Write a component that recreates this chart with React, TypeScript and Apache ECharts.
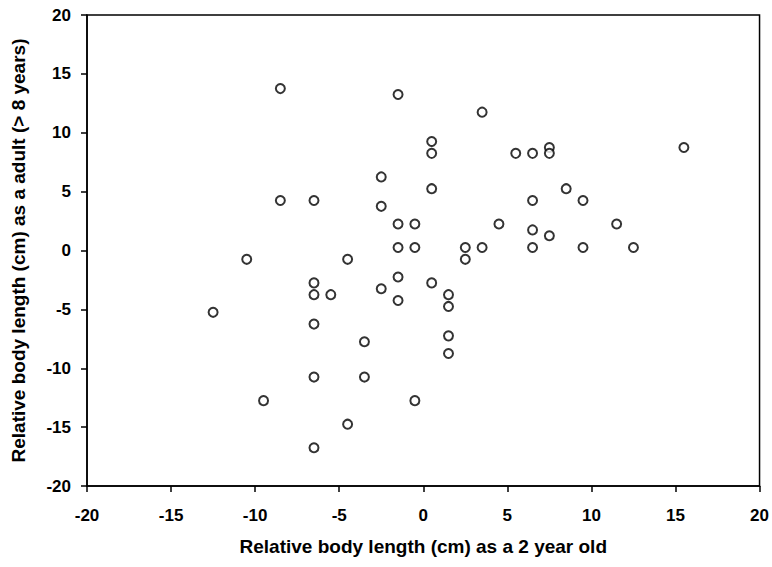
import React, { useEffect, useRef } from "react";
import * as echarts from "echarts";

// Relative body length (cm): value at age 2 vs. value as an adult (> 8 years)
const lengthAt2: number[] = [
  -12.5, -10.5, -9.5, -8.5, -8.5, -6.5, -6.5, -6.5, -6.5, -6.5, -6.5, -5.5,
  -4.5, -4.5, -3.5, -3.5, -2.5, -2.5, -2.5, -1.5, -1.5, -1.5, -1.5, -1.5,
  -0.5, -0.5, -0.5, 0.5, 0.5, 0.5, 0.5, 1.5, 1.5, 1.5, 1.5, 2.5, 2.5, 3.5,
  3.5, 4.5, 5.5, 6.5, 6.5, 6.5, 6.5, 7.5, 7.5, 7.5, 8.5, 9.5, 9.5, 11.5,
  12.5, 15.5,
];
const lengthAsAdult: number[] = [
  -5.25, -0.75, -12.75, 13.75, 4.25, 4.25, -2.75, -3.75, -6.25, -10.75,
  -16.75, -3.75, -0.75, -14.75, -7.75, -10.75, 6.25, 3.75, -3.25, 13.25,
  2.25, 0.25, -2.25, -4.25, 2.25, 0.25, -12.75, 9.25, 8.25, 5.25, -2.75,
  -3.75, -4.75, -7.25, -8.75, 0.25, -0.75, 11.75, 0.25, 2.25, 8.25, 8.25,
  4.25, 1.75, 0.25, 8.75, 8.25, 1.25, 5.25, 4.25, 0.25, 2.25, 0.25, 8.75,
];

const xTitle = "Relative body length (cm) as a 2 year old";
const yTitle = "Relative body length (cm) as a adult (> 8 years)";
const axisMin = -20;
const axisMax = 20;
const axisStep = 5;

const FONT = "'Liberation Sans', Arial, sans-serif";

export default function App() {
  const ref = useRef<HTMLDivElement>(null);

  useEffect(() => {
    if (!ref.current) return;
    const chart = echarts.init(ref.current, undefined, { renderer: "svg" });
    const points = lengthAt2.map((x, i) => [x, lengthAsAdult[i]]);

    const axisCommon = {
      type: "value" as const,
      min: axisMin,
      max: axisMax,
      interval: axisStep,
      nameLocation: "middle" as const,
      nameTextStyle: {
        fontFamily: FONT,
        fontWeight: "bold" as const,
        fontSize: 19,
        color: "#000",
      },
      axisLine: { show: true, onZero: false, lineStyle: { color: "#000", width: 1.5 } },
      axisTick: { show: true, inside: false, length: 6, lineStyle: { color: "#000", width: 1.5 } },
      axisLabel: {
        fontFamily: FONT,
        fontWeight: "bold" as const,
        fontSize: 17,
        color: "#000",
      },
      splitLine: { show: false },
    };

    chart.setOption({
      animation: false,
      backgroundColor: "#fff",
      grid: {
        left: 87,
        right: 11,
        top: 15,
        bottom: 81,
        show: true,
        borderColor: "#000",
        borderWidth: 1.5,
      },
      xAxis: {
        ...axisCommon,
        name: xTitle,
        nameGap: 51,
        axisLabel: { ...axisCommon.axisLabel, margin: 21 },
      },
      yAxis: {
        ...axisCommon,
        name: yTitle,
        nameGap: 59,
        axisLabel: { ...axisCommon.axisLabel, margin: 16 },
      },
      series: [
        {
          type: "scatter",
          data: points,
          symbol: "circle",
          symbolSize: 9,
          itemStyle: { color: "#fff", borderColor: "#000", borderWidth: 2 },
        },
      ],
    });

    return () => chart.dispose();
  }, []);

  return (
    <div
      ref={ref}
      style={{ position: "fixed", left: 0, top: 0, width: 772, height: 567 }}
    />
  );
}
